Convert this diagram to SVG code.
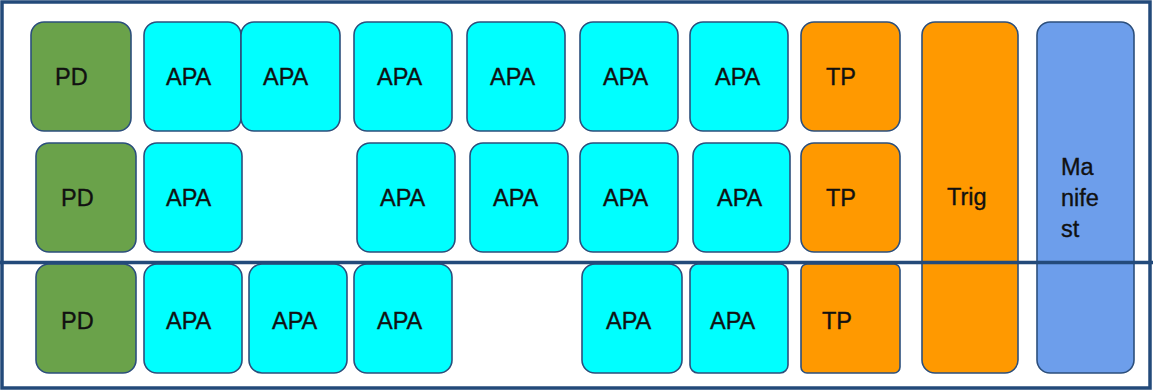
<svg xmlns="http://www.w3.org/2000/svg" width="1153" height="391" viewBox="0 0 1153 391">
<style>
.b{stroke:#2c4f7c;stroke-width:1.6}
.pd{fill:#6aa24a}
.apa{fill:#00ffff}
.tp{fill:#ff9900}
.mf{fill:#6d9eeb}
text{font-family:"Liberation Sans",Arial,sans-serif;font-size:23.5px;fill:#111;stroke:#111;stroke-width:0.35}
.frame{fill:none;stroke:#234a7a;stroke-width:3.5}
</style>
<rect x="0" y="0" width="1153" height="391" fill="#ffffff"/>
<g id="row1">
<g id="pd1"><rect class="b pd" x="31" y="22" width="100" height="109" rx="13"/><text x="55" y="85">PD</text></g>
<g id="apa1a"><rect class="b apa" x="144" y="22" width="97" height="109" rx="13"/><text x="166" y="85">APA</text></g>
<g id="apa1b"><rect class="b apa" x="241" y="22" width="99" height="109" rx="13"/><text x="263" y="85">APA</text></g>
<g id="apa1c"><rect class="b apa" x="354" y="22" width="98" height="109" rx="13"/><text x="377" y="85">APA</text></g>
<g id="apa1d"><rect class="b apa" x="467" y="22" width="98" height="109" rx="13"/><text x="490" y="85">APA</text></g>
<g id="apa1e"><rect class="b apa" x="580" y="22" width="98" height="109" rx="13"/><text x="603" y="85">APA</text></g>
<g id="apa1f"><rect class="b apa" x="690" y="22" width="98" height="109" rx="13"/><text x="715" y="85">APA</text></g>
<g id="tp1"><rect class="b tp" x="801" y="22" width="99" height="109" rx="13"/><text x="826" y="85">TP</text></g>
</g>
<g id="row2">
<g id="pd2"><rect class="b pd" x="36" y="143" width="100" height="109" rx="13"/><text x="61" y="206">PD</text></g>
<g id="apa2a"><rect class="b apa" x="144" y="143" width="98" height="109" rx="13"/><text x="166" y="206">APA</text></g>
<g id="apa2c"><rect class="b apa" x="357" y="143" width="98" height="109" rx="13"/><text x="380" y="206">APA</text></g>
<g id="apa2d"><rect class="b apa" x="470" y="143" width="98" height="109" rx="13"/><text x="493" y="206">APA</text></g>
<g id="apa2e"><rect class="b apa" x="580" y="143" width="98" height="109" rx="13"/><text x="603" y="206">APA</text></g>
<g id="apa2f"><rect class="b apa" x="693" y="143" width="97" height="109" rx="13"/><text x="717" y="206">APA</text></g>
<g id="tp2"><rect class="b tp" x="801" y="143" width="99" height="109" rx="13"/><text x="826" y="206">TP</text></g>
</g>
<g id="row3">
<g id="pd3"><rect class="b pd" x="36" y="264" width="100" height="109" rx="13"/><text x="61" y="329">PD</text></g>
<g id="apa3a"><rect class="b apa" x="144" y="264" width="98" height="109" rx="13"/><text x="166" y="329">APA</text></g>
<g id="apa3b"><rect class="b apa" x="249" y="264" width="98" height="109" rx="13"/><text x="272" y="329">APA</text></g>
<g id="apa3c"><rect class="b apa" x="354" y="264" width="98" height="109" rx="13"/><text x="377" y="329">APA</text></g>
<g id="apa3e"><rect class="b apa" x="582" y="264" width="100" height="109" rx="13"/><text x="606" y="329">APA</text></g>
<g id="apa3f"><rect class="b apa" x="690" y="264" width="98" height="109" rx="8"/><text x="710" y="329">APA</text></g>
<g id="tp3"><rect class="b tp" x="801" y="264" width="99" height="109" rx="6"/><text x="822" y="329">TP</text></g>
</g>
<g id="trig"><rect class="b tp" x="922" y="22" width="96" height="351" rx="13"/><text x="947" y="205">Trig</text></g>
<g id="manifest"><rect class="b mf" x="1037" y="22" width="97" height="351" rx="13"/><text x="1061" y="175">Ma</text><text x="1061" y="206">nife</text><text x="1061" y="237">st</text></g>
<g id="frame">
<rect class="frame" x="2" y="2" width="1148" height="386"/>
<line x1="0" y1="262.5" x2="1153" y2="262.5" stroke="#234a7a" stroke-width="3.5"/>
</g>
</svg>
